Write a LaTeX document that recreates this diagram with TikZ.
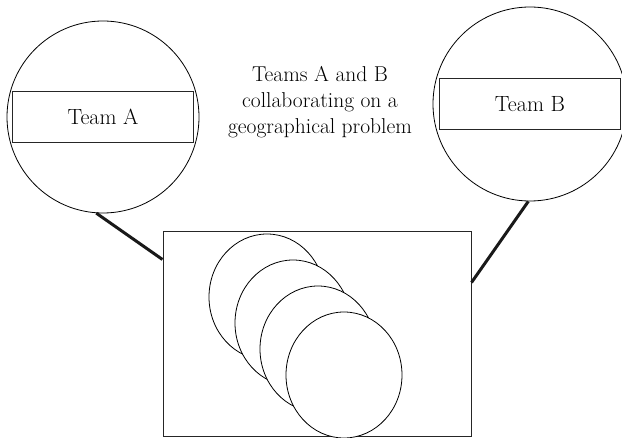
\documentclass[tikz,border=0pt]{standalone}
\usepackage{tikz}

\tikzset{
  team/.style={draw, circle, line width=0.8pt, minimum size=#1, inner sep=0pt},
  teambox/.style={draw=black!85, line width=1.1pt, minimum width=181pt, minimum height=51pt, inner sep=0pt, font=\fontsize{22}{26}\selectfont},
  link/.style={line width=3pt, black!90}
}

\begin{document}
\begin{tikzpicture}[x=1pt,y=-1pt]
\useasboundingbox (0,0) rectangle (622,438);

% the two teams
\node[team=192pt] (circA) at (103,117) {};
\node[teambox] (teamA) at (circA.center) {Team A};
\node[team=194pt] (circB) at (530,104) {};
\node[teambox] (teamB) at (circB.center) {Team B};

\node[align=center, font=\fontsize{21.5}{26}\selectfont] (title) at (320,102)
  {Teams A and B\\collaborating on a\\geographical problem};

% shared view of the problem
\node[draw=black!85, line width=1pt, minimum width=308pt, minimum height=205pt, inner sep=0pt] (view) at (317,334.5) {};

\foreach \cx/\cy in {267/297, 293/323, 318/349, 344/375}
  \draw[line width=0.8pt, fill=white] (\cx,\cy) ellipse [x radius=58, y radius=63];

\draw[link] (circA.-94) -- ([yshift=-28pt]view.north west);
\draw[link] (circB.-91) -- ([yshift=-51pt]view.north east);
\end{tikzpicture}
\end{document}
